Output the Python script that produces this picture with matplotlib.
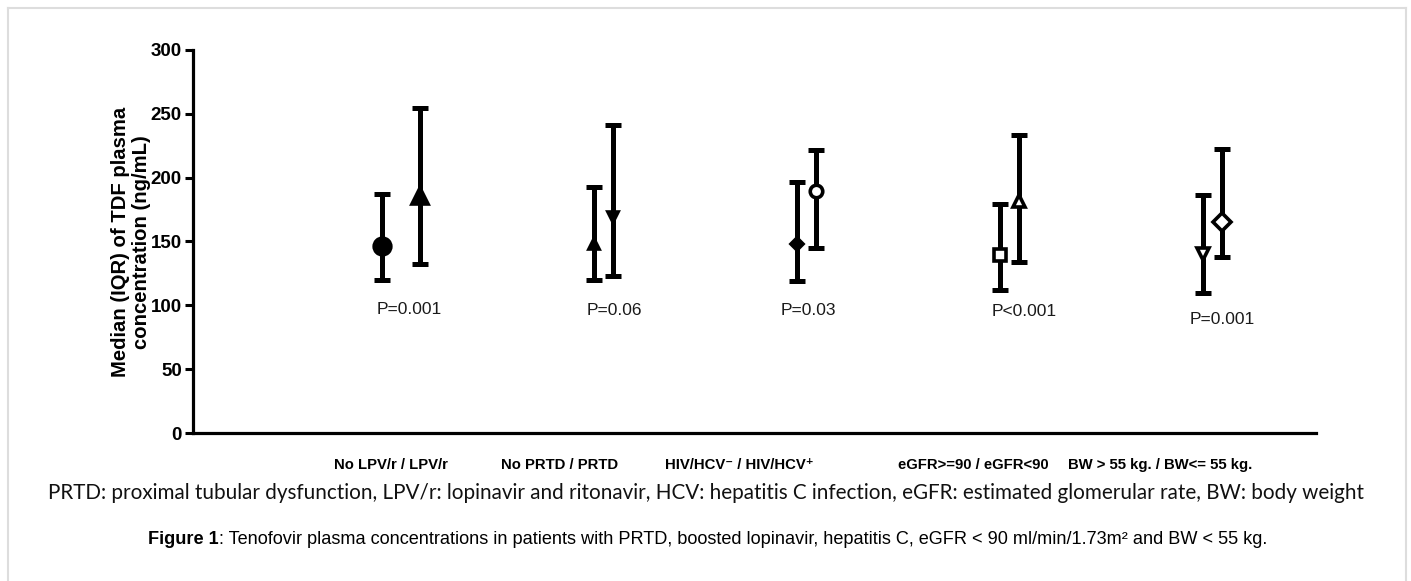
import matplotlib
matplotlib.use("Agg")
import matplotlib.pyplot as plt
from matplotlib.lines import Line2D
import numpy as np

# comparison labels (x axis) and p-values
groups = ["No LPV/r / LPV/r", "No PRTD / PRTD", "HIV/HCV\u207b / HIV/HCV\u207a",
          "eGFR>=90 / eGFR<90", "BW > 55 kg. / BW<= 55 kg."]
pvals = ["P=0.001", "P=0.06", "P=0.03", "P<0.001", "P=0.001"]
pval_y = [97, 96, 96, 95, 89]

# reference group (no LPV/r, no PRTD, HCV-, eGFR>=90, BW>55): median, Q1, Q3
ref_median = [146.5, 147.8, 148.3, 139.7, 140.0]
ref_q1 = [119.6, 119.6, 119.0, 112.3, 109.9]
ref_q3 = [187.4, 192.7, 196.3, 179.1, 186.4]

# exposed group (LPV/r, PRTD, HCV+, eGFR<90, BW<=55): median, Q1, Q3
exp_median = [185.6, 169.2, 189.5, 181.7, 165.3]
exp_q1 = [132.6, 123.2, 144.9, 134.2, 137.9]
exp_q3 = [254.3, 241.3, 221.4, 233.2, 222.2]

BOLD = ["Liberation Sans", "DejaVu Sans"]

fig = plt.figure(figsize=(14.11, 5.81), dpi=100)
ax = fig.add_axes([193 / 1411, 1 - 433 / 581, (1316 - 193) / 1411, (433 - 50) / 581])

# marker style per (group, side): (marker, size, filled)
ref_style = [("o", 12, True), ("^", 7, True), ("D", 6.5, True), ("s", 9, False), ("v", 9, False)]
exp_style = [("^", 12, True), ("v", 7, True), ("o", 9, False), ("^", 9, False), ("D", 9, False)]
half_gap = [0.092, 0.047, 0.047, 0.047, 0.047]

x = np.arange(len(groups))
for i in range(len(groups)):
    for xs, med, lo, hi, st in [
        (x[i] - half_gap[i], ref_median[i], ref_q1[i], ref_q3[i], ref_style[i]),
        (x[i] + half_gap[i], exp_median[i], exp_q1[i], exp_q3[i], exp_style[i]),
    ]:
        mk, ms, filled = st
        ax.errorbar(xs, med, yerr=[[med - lo], [hi - med]], fmt="none", ecolor="black",
                    elinewidth=3.6, capsize=5.5, capthick=3.6, zorder=2)
        ax.plot(xs, med, marker=mk, markersize=ms, color="black",
                markerfacecolor="black" if filled else "white",
                markeredgecolor="black", markeredgewidth=2.6, linestyle="none", zorder=3)

# p-value annotations
p_dx = [0.04, 0.05, 0.01, 0.07, 0.05]
for i, p in enumerate(pvals):
    ax.text(x[i] + p_dx[i], pval_y[i], p, ha="center", va="center", fontsize=12.5,
            family=BOLD, color="#1a1a1a")

# category labels below the axis
lab_dx = [-0.05, -0.22, -0.33, -0.18, -0.26]
trans = matplotlib.transforms.blended_transform_factory(ax.transData, ax.transAxes)
for i, g in enumerate(groups):
    ax.text(x[i] + lab_dx[i], -0.084, g, transform=trans, ha="center", va="center",
            fontsize=10.7, fontweight="bold", family=BOLD)

ax.set_xlim(-1.025, 4.51)
ax.set_ylim(0, 300)
ax.set_yticks([0, 50, 100, 150, 200, 250, 300])
ax.set_xticks([])
for side in ["top", "right"]:
    ax.spines[side].set_visible(False)
for side in ["left", "bottom"]:
    ax.spines[side].set_linewidth(2.3)
ax.tick_params(axis="y", length=6, width=2.2, pad=2, labelsize=13.5)
for t in ax.get_yticklabels():
    t.set_fontweight("bold")
    t.set_family(BOLD)

fig.text(131 / 1411, 1 - 242 / 581, "Median (IQR) of TDF plasma\nconcentration (ng/mL)",
         rotation=90, ha="center", va="center", fontsize=14.6, fontweight="bold",
         family=BOLD, linespacing=1.1)

# captions
fig.text(706 / 1411, 1 - 493 / 581,
         "PRTD: proximal tubular dysfunction, LPV/r: lopinavir and ritonavir, HCV: hepatitis C "
         "infection, eGFR: estimated glomerular rate, BW: body weight",
         ha="center", va="center", fontsize=14.9, family=["Lato", "DejaVu Sans"], color="#111111")
t1 = fig.text(148 / 1411, 1 - 540 / 581, "Figure 1", ha="left", va="center", fontsize=13.1,
              fontweight="bold", family=BOLD)
fig.canvas.draw()
ax.annotate(": Tenofovir plasma concentrations in patients with PRTD, boosted lopinavir, "
            "hepatitis C, eGFR < 90 ml/min/1.73m\u00b2 and BW < 55 kg.",
            xy=(1, 0), xycoords=t1, ha="left", va="bottom", fontsize=13.1, family=BOLD,
            annotation_clip=False)

# light frame around the figure (left, top, right)
frame_kw = dict(color="#dddddd", linewidth=1.5, transform=fig.transFigure)
fig.add_artist(Line2D([8 / 1411, 8 / 1411], [0, 1 - 8 / 581], **frame_kw))
fig.add_artist(Line2D([8 / 1411, 1406 / 1411], [1 - 8 / 581, 1 - 8 / 581], **frame_kw))
fig.add_artist(Line2D([1406 / 1411, 1406 / 1411], [0, 1 - 8 / 581], **frame_kw))

fig.savefig("out.png", dpi=100)
